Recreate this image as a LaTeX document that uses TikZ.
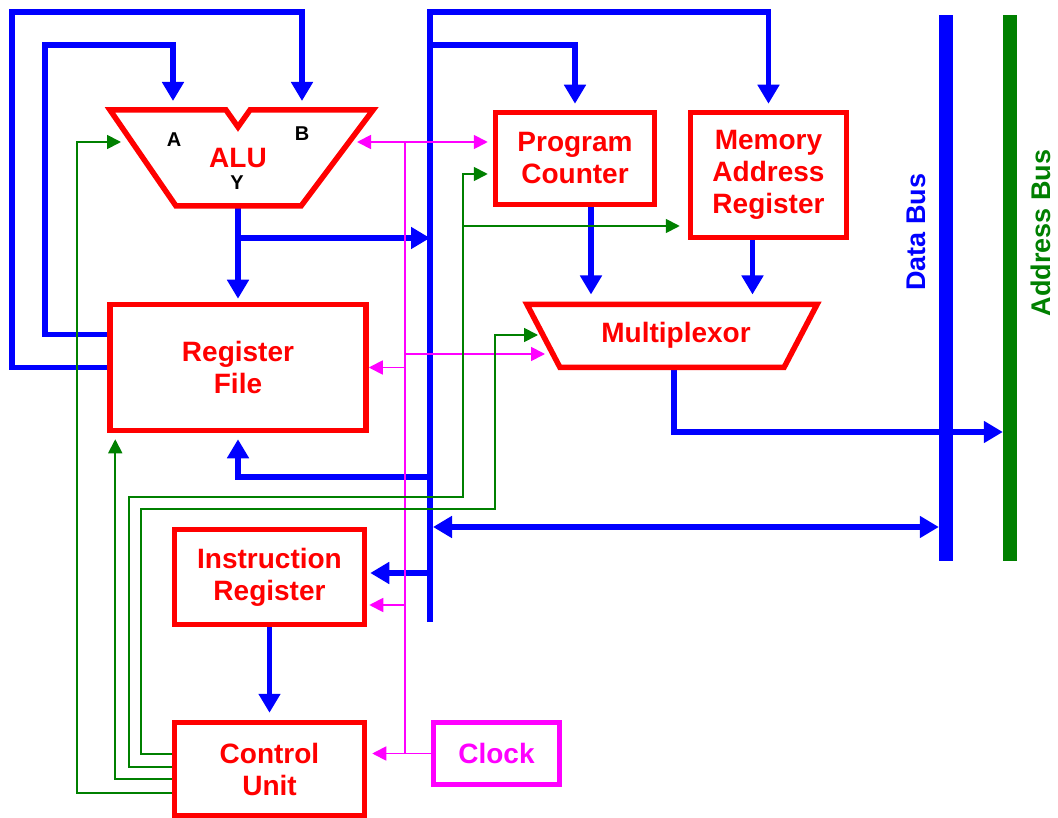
\documentclass[tikz,border=0pt]{standalone}
\usepackage{fontspec}
\setmainfont{Liberation Sans}
\usetikzlibrary{arrows.meta, calc}
\definecolor{busblue}{HTML}{0000FF}
\definecolor{boxred}{HTML}{FF0000}
\definecolor{clkpink}{HTML}{FF00FF}
\definecolor{ctlgreen}{HTML}{008000}

\begin{document}
\begin{tikzpicture}[
  x=1pt, y=-1pt,
  >={Triangle[length=19pt, width=21pt]},
  blockbox/.style={
    draw=#1, line width=5.5pt, text=#1, align=center, inner sep=0pt,
    font=\fontsize{28}{32}\selectfont\bfseries
  },
  blockbox/.default=boxred,
  redtext/.style={text=boxred, inner sep=0pt, font=\fontsize{28}{32}\selectfont\bfseries},
  portlbl/.style={text=black, inner sep=0pt, font=\fontsize{20}{22}\selectfont\bfseries},
  barbus/.style={fill=#1, inner sep=0pt, minimum width=14pt, minimum height=546pt},
  buslbl/.style={text=#1, rotate=90, inner sep=0pt, font=\fontsize{27}{30}\selectfont\bfseries},
  bus/.style={line width=5.5pt, busblue},
  wire/.style={line width=1.8pt, #1, >={Triangle[length=14pt, width=14pt]}},
  outline/.style={draw=boxred, line width=5.5pt},
]

% Frame
\useasboundingbox (0,0) rectangle (1058,818);

% ===== Blocks =====
\node[blockbox, minimum width=256pt, minimum height=126pt] (regs) at (238,367.5) {Register\\File};
\node[blockbox, minimum width=159pt, minimum height=92pt] (pc) at (575,158.5) {Program\\Counter};
\node[blockbox, minimum width=156pt, minimum height=125pt] (mar) at (768.5,175) {Memory\\Address\\Register};
\node[blockbox, minimum width=190pt, minimum height=95pt] (ir) at (269.5,577) {Instruction\\Register};
\node[blockbox, minimum width=190pt, minimum height=93pt] (cu) at (269.5,769) {Control\\Unit};
\node[blockbox=clkpink, minimum width=126pt, minimum height=62pt] (clock) at (496.5,753.5) {Clock};

% ALU points
\coordinate (alu-a) at (173,101);
\coordinate (alu-b) at (302,101);
\coordinate (alu-y) at (238,208.5);
\coordinate (alu-ctl) at (121,142);
\coordinate (alu-clk) at (357,142);

% Multiplexor points
\coordinate (mux-nw) at (527,304.5);
\coordinate (mux-ne) at (817,304.5);
\coordinate (mux-se) at (784,367.5);
\coordinate (mux-sw) at (560,367.5);
\coordinate (mux-out) at (674,370);
\coordinate (mux-ctl) at (538,335);
\coordinate (mux-clk) at (545,354);

% Internal bus and clock line
\coordinate (ib-top) at (430,12);
\coordinate (ib-bot) at (430,622);
\coordinate (clk-bus) at (405,142);

% ===== Buses =====
\node[barbus=busblue] (dbus) at (946,288) {};
\node[barbus=ctlgreen] (abus) at (1010,288) {};
\node[buslbl=busblue] (dbuslbl) at (916,232) {Data Bus};
\node[buslbl=ctlgreen] (abuslbl) at (1041,233) {Address Bus};

% ===== Data paths =====
\draw[bus,->, shorten >=6pt] (ib-bot) -- (ib-top) -| (mar.north);
\draw[bus,->, shorten >=6pt] (ib-top |- 0,45) -| (pc.north);
\draw[bus,->] (regs.west) -| (12,12) -| (alu-b);
\draw[bus,->] ($(regs.west)+(0,-33)$) -| (45,45) -| (alu-a);
\draw[bus,->, shorten >=3pt] (alu-y) -- (alu-y |- regs.north);
\draw[bus,->] (alu-y |- 0,238) -- (ib-top |- 0,238);
\draw[bus,->, shorten >=10pt] ([xshift=16pt]pc.south) -- ([xshift=16pt]pc.south |- mux-nw);
\draw[bus,->, shorten >=10pt] ([xshift=-16pt]mar.south) -- ([xshift=-16pt]mar.south |- mux-nw);
\draw[bus,->] (mux-out) |- (abus.west |- 0,432);
\draw[bus,->, shorten >=6pt] (ib-top |- 0,477) -| (regs.south);
\draw[bus,<->, shorten <=3pt] (ib-top |- 0,527) -- (dbus.west |- 0,527);
\draw[bus,->, shorten >=3pt] (ib-top |- 0,573) -- (ir.east |- 0,573);
\draw[bus,->, shorten >=7pt] (ir.south) -- (cu.north);

% ===== ALU and multiplexor =====
\draw[outline] (110,110) -- (226,110) -- (238,127) -- (250,110) -- (373,110)
  -- (301,206) -- (176,206) -- cycle;
\node[redtext] (alu) at (238,158) {ALU};
\node[portlbl] (alua) at (174,140) {A};
\node[portlbl] (alub) at (302,134) {B};
\node[portlbl] (aluy) at (237,183) {Y};

\draw[outline] (mux-nw) -- (mux-ne) -- (mux-se) -- (mux-sw) -- cycle;
\node[redtext] (mux) at (676,335) {Multiplexor};

% ===== Clock lines =====
\draw[wire=clkpink,->, shorten >=5pt] (clock.west) -- (clock.west -| cu.east);
\draw[wire=clkpink] (clock.west -| clk-bus) -- (clk-bus);
\draw[wire=clkpink,->] (clk-bus) -- (alu-clk);
\draw[wire=clkpink,->, shorten >=5pt] (clk-bus) -- (clk-bus -| pc.west);
\draw[wire=clkpink,->] (clk-bus |- regs.east) -- (regs.east);
\draw[wire=clkpink,->] (clk-bus |- mux-clk) -- (mux-clk);
\draw[wire=clkpink,->, shorten >=2pt] (clk-bus |- 0,605) -- (ir.east |- 0,605);

% ===== Control lines =====
\draw[wire=ctlgreen,->] (cu.west |- 0,793) -| (77,142) -- (alu-ctl);
\draw[wire=ctlgreen,->, shorten >=6pt] (cu.west |- 0,779) -| ([xshift=8pt]regs.south west);
\draw[wire=ctlgreen,->, shorten >=5pt] (cu.west |- 0,767) -| (129,497) -| (463,174) -- (pc.west |- 0,174);
\draw[wire=ctlgreen,->, shorten >=8pt] (463,226) -- (mar.west |- 0,226);
\draw[wire=ctlgreen,->] (cu.west |- 0,754) -| (141,509) -| (495,335) -- (mux-ctl);

\end{tikzpicture}
\end{document}
